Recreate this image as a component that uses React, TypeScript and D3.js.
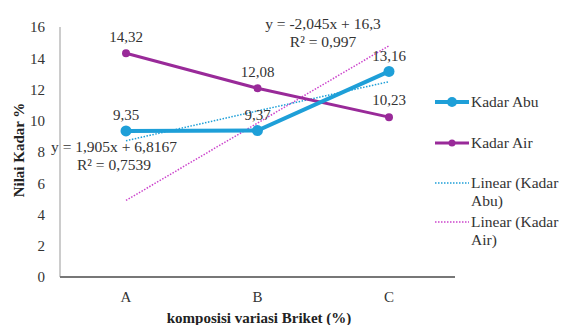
import React from 'react';
import * as d3 from 'd3';

const categories = ['A', 'B', 'C'];
const kadarAbu = [9.35, 9.37, 13.16];
const kadarAir = [14.32, 12.08, 10.23];
const trendAbu = [8.72, 10.63, 12.5];
const trendAir = [4.9, 9.85, 14.8];
const yTicks = [0, 2, 4, 6, 8, 10, 12, 14, 16];

const W = 562;
const H = 325;
const FONT = "'Liberation Serif', 'Times New Roman', serif";
const BLUE = '#1e9fd8';
const PURPLE = '#992a99';
const PINK = '#cc44cc';
const TXT = '#333';

const App = () => {
  const x = d3.scalePoint<string>().domain(categories).range([126, 389]);
  const y = d3.scaleLinear().domain([0, 16]).range([277, 27]);

  const line = d3.line<number>()
    .x((d, i) => x(categories[i])!)
    .y(d => y(d));

  const legend = [
    { label: ['Kadar Abu'], color: BLUE, w: 4, r: 5, dash: null, y: 102 },
    { label: ['Kadar Air'], color: PURPLE, w: 3, r: 3.5, dash: null, y: 143 },
    { label: ['Linear (Kadar', 'Abu)'], color: BLUE, w: 1.5, r: 0, dash: '1.5,1.5', y: 183 },
    { label: ['Linear (Kadar', 'Air)'], color: PINK, w: 1.5, r: 0, dash: '1.5,1.5', y: 222 },
  ];

  const fmt = (v: number) => v.toFixed(2).replace('.', ',');

  return (
    <svg width={W} height={H} style={{ position: 'absolute', left: 0, top: 0, background: '#fff', fontFamily: FONT }}>
      {/* axes */}
      <line x1={60} x2={60} y1={27} y2={277} stroke="#999" strokeWidth={1} />
      <line x1={60} x2={455} y1={y(0)} y2={y(0)} stroke="#777" strokeWidth={2} />
      {yTicks.map(t => (
        <text key={t} x={45} y={y(t)} dy="0.35em" textAnchor="end" fontSize={15} fill={TXT}>{t}</text>
      ))}
      {categories.map(c => (
        <text key={c} x={x(c)} y={297} dy="0.35em" textAnchor="middle" fontSize={15} fill={TXT}>{c}</text>
      ))}
      <text transform="translate(19,150) rotate(-90)" textAnchor="middle" dy="0.35em"
        fontSize={15} fontWeight="bold" fill="#222">Nilai Kadar %</text>
      <text x={259} y={318} dy="0.35em" textAnchor="middle" fontSize={15} fontWeight="bold" fill="#222">
        komposisi variasi Briket (%)
      </text>

      {/* trend lines */}
      <path d={line(trendAir)!} fill="none" stroke={PINK} strokeWidth={1.5} strokeDasharray="1.5,1.5" />
      <path d={line(trendAbu)!} fill="none" stroke={BLUE} strokeWidth={1.5} strokeDasharray="1.5,1.5" />

      {/* series */}
      <path d={line(kadarAir)!} fill="none" stroke={PURPLE} strokeWidth={3} />
      {kadarAir.map((v, i) => (
        <circle key={i} cx={x(categories[i])} cy={y(v)} r={4} fill={PURPLE} />
      ))}
      <path d={line(kadarAbu)!} fill="none" stroke={BLUE} strokeWidth={4} />
      {kadarAbu.map((v, i) => (
        <circle key={i} cx={x(categories[i])} cy={y(v)} r={5.5} fill={BLUE} />
      ))}

      {/* data labels */}
      {kadarAir.map((v, i) => (
        <text key={i} x={x(categories[i])} y={y(v) - 17} dy="0.35em" textAnchor="middle"
          fontSize={15} fill={TXT}>{fmt(v)}</text>
      ))}
      {kadarAbu.map((v, i) => (
        <text key={i} x={x(categories[i])} y={y(v) - 16} dy="0.35em" textAnchor="middle"
          fontSize={15} fill={TXT}>{fmt(v)}</text>
      ))}

      {/* equations */}
      <text x={323} y={24} dy="0.35em" textAnchor="middle" fontSize={15.5} fill={TXT}>y = -2,045x + 16,3</text>
      <text x={323} y={42} dy="0.35em" textAnchor="middle" fontSize={15.5} fill={TXT}>R² = 0,997</text>
      <text x={114} y={147} dy="0.35em" textAnchor="middle" fontSize={15.5} fill={TXT}>y = 1,905x + 6,8167</text>
      <text x={114} y={165} dy="0.35em" textAnchor="middle" fontSize={15.5} fill={TXT}>R² = 0,7539</text>

      {/* legend */}
      {legend.map(l => (
        <g key={l.label[0] + l.y}>
          <line x1={435} x2={469} y1={l.y} y2={l.y} stroke={l.color} strokeWidth={l.w}
            strokeDasharray={l.dash ?? undefined} />
          {l.r > 0 && <circle cx={452} cy={l.y} r={l.r} fill={l.color} />}
          {l.label.map((t, j) => (
            <text key={j} x={471} y={l.y + j * 18} dy="0.35em" fontSize={15.5} fill={TXT}>{t}</text>
          ))}
        </g>
      ))}
    </svg>
  );
};

export default App;
